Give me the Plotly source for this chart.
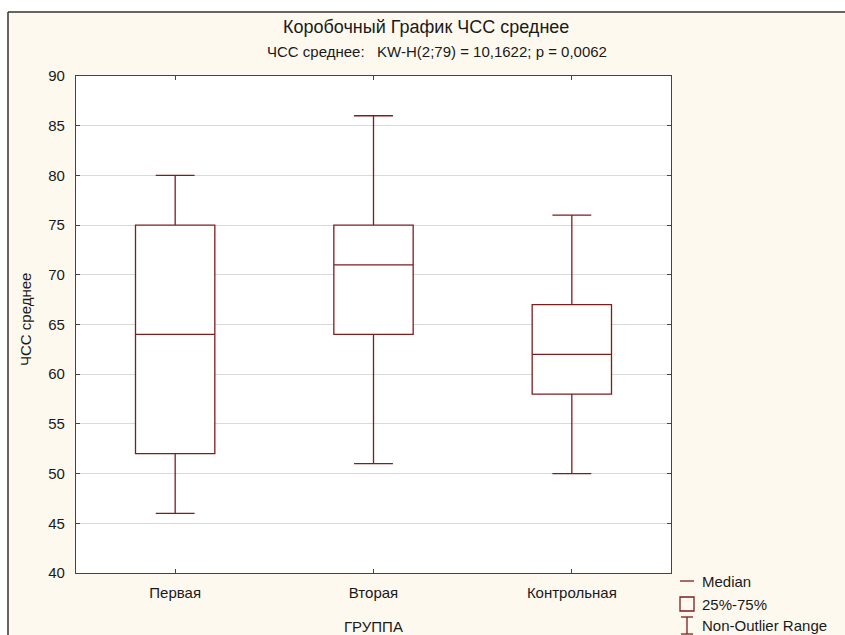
import plotly.graph_objects as go

# ---- data ----
categories = ["Первая", "Вторая", "Контрольная"]
q1_vals = [52, 64, 58]
median_vals = [64, 71, 62]
q3_vals = [75, 75, 67]
lower_vals = [46, 51, 50]
upper_vals = [80, 86, 76]
y_ticks = [40, 45, 50, 55, 60, 65, 70, 75, 80, 85, 90]

title_text = "Коробочный График ЧСС среднее"
subtitle_text = "ЧСС среднее:   KW-H(2;79) = 10,1622; p = 0,0062"
x_title = "ГРУППА"
y_title = "ЧСС среднее"
legend_labels = ["Median", "25%-75%", "Non-Outlier Range"]

# ---- geometry ----
W, H = 845, 635
L, R, T, B = 76, 671, 76, 573
ML, MR, MT, MB = L, W - R, T, H - B
PW, PH = R - L, B - T

def px(xp):
    return (xp - L) / PW

def py(yp):
    return (B - yp) / PH

BOX_COLOR = "#7f1d1d"
CREAM = "#fdf9ef"
FONT = "Liberation Sans, Arial, sans-serif"
TXT = "#1a1a1a"

fig = go.Figure()
fig.add_trace(go.Box(
    x=categories,
    q1=q1_vals, median=median_vals, q3=q3_vals,
    lowerfence=lower_vals, upperfence=upper_vals,
    width=0.4, whiskerwidth=0.49,
    fillcolor="white",
    line=dict(color=BOX_COLOR, width=1.3),
    boxpoints=False, showlegend=False, hoverinfo="skip",
))

shapes = []
# white margins outside the outer frame
shapes.append(dict(type="rect", xref="paper", yref="paper", layer="below",
                   x0=px(-5), x1=px(W + 5), y0=py(12), y1=py(-5),
                   fillcolor="white", line=dict(width=0)))
shapes.append(dict(type="rect", xref="paper", yref="paper", layer="below",
                   x0=px(-5), x1=px(8), y0=py(H + 5), y1=py(-5),
                   fillcolor="white", line=dict(width=0)))
# outer frame lines
shapes.append(dict(type="line", xref="paper", yref="paper",
                   x0=px(8), x1=px(W + 5), y0=py(12), y1=py(12),
                   line=dict(color="#333333", width=1.5)))
shapes.append(dict(type="line", xref="paper", yref="paper",
                   x0=px(8), x1=px(8), y0=py(12), y1=py(H + 5),
                   line=dict(color="#333333", width=1.5)))
# legend symbols
shapes.append(dict(type="line", xref="paper", yref="paper",
                   x0=px(680), x1=px(694), y0=py(581), y1=py(581),
                   line=dict(color=BOX_COLOR, width=1.3)))
shapes.append(dict(type="rect", xref="paper", yref="paper",
                   x0=px(680), x1=px(694), y0=py(611), y1=py(597),
                   line=dict(color=BOX_COLOR, width=1.3), fillcolor="rgba(0,0,0,0)"))
shapes.append(dict(type="line", xref="paper", yref="paper",
                   x0=px(681), x1=px(693), y0=py(617), y1=py(617),
                   line=dict(color=BOX_COLOR, width=1.3)))
shapes.append(dict(type="line", xref="paper", yref="paper",
                   x0=px(687), x1=px(687), y0=py(617), y1=py(634),
                   line=dict(color=BOX_COLOR, width=1.3)))
shapes.append(dict(type="line", xref="paper", yref="paper",
                   x0=px(681), x1=px(693), y0=py(634), y1=py(634),
                   line=dict(color=BOX_COLOR, width=1.3)))

annotations = [
    dict(text=title_text, x=px(426), y=py(27), xref="paper", yref="paper",
         showarrow=False, xanchor="center", yanchor="middle",
         font=dict(family=FONT, size=18, color=TXT)),
    dict(text=subtitle_text, x=px(437), y=py(52), xref="paper", yref="paper",
         showarrow=False, xanchor="center", yanchor="middle",
         font=dict(family=FONT, size=15, color=TXT)),
    dict(text=x_title, x=px(373), y=py(626), xref="paper", yref="paper",
         showarrow=False, xanchor="center", yanchor="middle",
         font=dict(family=FONT, size=15, color=TXT)),
    dict(text=y_title, x=px(25), y=py(320), xref="paper", yref="paper",
         showarrow=False, xanchor="center", yanchor="middle", textangle=-90,
         font=dict(family=FONT, size=15, color=TXT)),
]
for lab, yy in zip(legend_labels, [581, 604, 625]):
    annotations.append(dict(text=lab, x=px(700), y=py(yy), xref="paper", yref="paper",
                            showarrow=False, xanchor="left", yanchor="middle",
                            font=dict(family=FONT, size=15, color=TXT)))

fig.update_layout(
    width=W, height=H,
    margin=dict(l=ML, r=MR, t=MT, b=MB, pad=0),
    paper_bgcolor=CREAM, plot_bgcolor="white",
    font=dict(family=FONT, size=15, color=TXT),
    shapes=shapes, annotations=annotations,
    showlegend=False,
)
fig.update_xaxes(
    type="category", range=[-0.5, 2.5],
    showline=True, linecolor="#444444", linewidth=1.3, mirror="ticks",
    ticks="inside", ticklen=4, tickcolor="#444444",
    showgrid=False, zeroline=False, ticklabelstandoff=6,
    tickfont=dict(family=FONT, size=15, color=TXT),
)
fig.update_yaxes(
    range=[40, 90], tickvals=y_ticks,
    showline=True, linecolor="#444444", linewidth=1.3, mirror="ticks",
    ticks="inside", ticklen=4, tickcolor="#444444",
    showgrid=True, gridcolor="#d9d9d9", gridwidth=1, zeroline=False,
    ticklabelstandoff=7,
    tickfont=dict(family=FONT, size=15, color=TXT),
)

fig.write_html("out.html", config={"displayModeBar": False},
               post_script="document.body.style.margin='0px';document.body.style.overflow='hidden';")
